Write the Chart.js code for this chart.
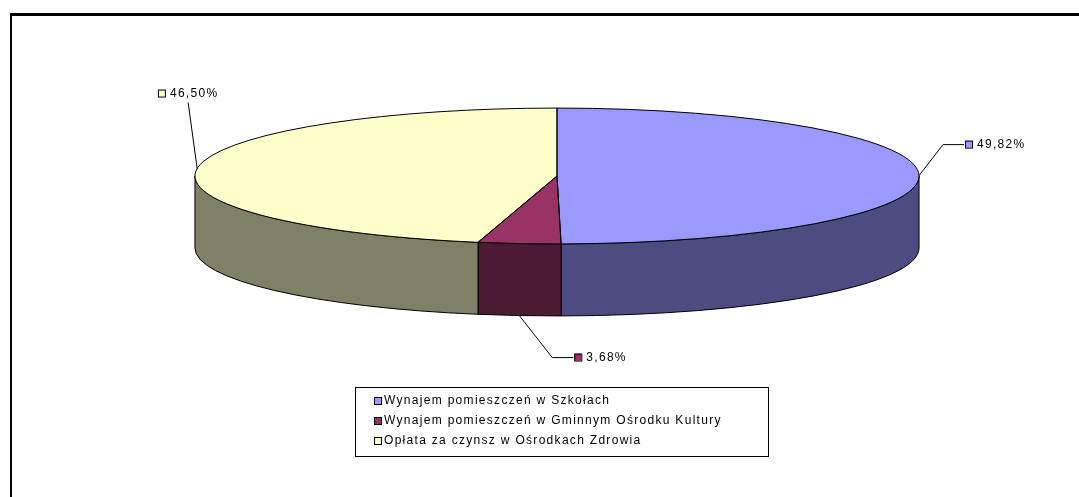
<!DOCTYPE html>
<html>
<head>
<meta charset="utf-8">
<script src="https://cdn.jsdelivr.net/npm/chart.js@4"></script>
<style>
  body { margin: 0; background: #fff; }
  #wrap { width: 1079px; height: 497px; position: relative; }
</style>
</head>
<body>
<div id="wrap"><canvas id="pie-chart"></canvas></div>
<script>
// Categories (legend entries)
const categories = [
    'Wynajem pomieszczeń w Szkołach',
    'Wynajem pomieszczeń w Gminnym Ośrodku Kultury',
    'Opłata za czynsz w Ośrodkach Zdrowia'
];

// Share of each item in percent
const shares = [49.82, 3.68, 46.50];

// Colours of the top faces and of the sides
const topColors = ['#9999FF', '#993366', '#FFFFCC'];
const sideColors = ['#4C4C80', '#4D1A33', '#808066'];

// How the flat pie is turned into a tilted disc
const stretchX = 2.057;
const stretchY = 0.386;
const depth = 72;

// Where each percent label sits relative to its slice
const labelPlacement = [
    { dx: 24, dy: -31, side: 'right' },
    { dx: 33, dy: 42, side: 'right' },
    { dx: -9, dy: -66, side: 'top' }
];

const font = '12px "Liberation Sans", Arial, sans-serif';
const spacing = '1.3px';

function percentText(v) {
    return v.toFixed(2).replace('.', ',') + '%';
}

function ellipseOf(chart) {
    const arc = chart.getDatasetMeta(0).data[0];
    return {
        cx: arc.x,
        cy: arc.y,
        rx: arc.outerRadius * stretchX,
        ry: arc.outerRadius * stretchY
    };
}

function swatch(ctx, x, y, color) {
    ctx.fillStyle = color;
    ctx.fillRect(x, y, 7, 7);
    ctx.lineWidth = 1;
    ctx.strokeStyle = '#000';
    ctx.strokeRect(x + 0.5, y + 0.5, 7, 7);
}

const pie3d = {
    id: 'pie3d',
    beforeDraw(chart) {
        const ctx = chart.ctx;
        ctx.save();
        ctx.fillStyle = '#000';
        ctx.fillRect(10, 13, 1069, 3);   // top frame line
        ctx.fillRect(10, 13, 2, 484);    // left frame line
        ctx.restore();
    },
    beforeDatasetsDraw(chart) {
        const ctx = chart.ctx;
        const e = ellipseOf(chart);
        const arcs = chart.getDatasetMeta(0).data;

        // sides of the disc, only the front half can be seen
        ctx.save();
        ctx.lineWidth = 1;
        ctx.strokeStyle = '#000';
        arcs.forEach((arc, i) => {
            const a1 = Math.max(arc.startAngle, 0);
            const a2 = Math.min(arc.endAngle, Math.PI);
            if (a2 <= a1) return;
            ctx.beginPath();
            ctx.ellipse(e.cx, e.cy, e.rx, e.ry, 0, a1, a2);
            ctx.ellipse(e.cx, e.cy + depth, e.rx, e.ry, 0, a2, a1, true);
            ctx.closePath();
            ctx.fillStyle = sideColors[i];
            ctx.fill();
            ctx.stroke();
        });
        ctx.restore();

        // squash the library's pie into the top face
        ctx.save();
        ctx.translate(e.cx, e.cy);
        ctx.scale(stretchX, stretchY);
        ctx.translate(-e.cx, -e.cy);
    },
    afterDatasetsDraw(chart) {
        const ctx = chart.ctx;
        ctx.restore();
        const e = ellipseOf(chart);
        const arcs = chart.getDatasetMeta(0).data;

        ctx.save();
        ctx.lineWidth = 1;
        ctx.strokeStyle = '#000';
        arcs.forEach(arc => {
            ctx.beginPath();
            ctx.moveTo(e.cx, e.cy);
            ctx.ellipse(e.cx, e.cy, e.rx, e.ry, 0, arc.startAngle, arc.endAngle);
            ctx.closePath();
            ctx.stroke();
        });

        // percent labels with leader lines
        ctx.font = font;
        ctx.letterSpacing = spacing;
        ctx.textBaseline = 'middle';
        arcs.forEach((arc, i) => {
            const mid = (arc.startAngle + arc.endAngle) / 2;
            const s = Math.sin(mid);
            const ax = e.cx + e.rx * Math.cos(mid);
            const ay = e.cy + e.ry * s + (s > 0 ? depth : 0);
            const p = labelPlacement[i];
            const ex = ax + p.dx;
            const ey = ay + p.dy;
            const txt = percentText(shares[i]);

            ctx.strokeStyle = '#000';
            ctx.lineWidth = 1;
            ctx.beginPath();
            ctx.moveTo(ax, ay);
            ctx.lineTo(ex, ey);
            if (p.side === 'right') {
                ctx.lineTo(ex + 21, ey);
                ctx.stroke();
                swatch(ctx, ex + 22, ey - 4, topColors[i]);
                ctx.fillStyle = '#000';
                ctx.fillText(txt, ex + 34, ey);
            } else {
                ctx.stroke();
                const w = 12 + ctx.measureText(txt).width;
                const left = ex - w / 2;
                const cy = ey - 9;
                swatch(ctx, left, cy - 4, topColors[i]);
                ctx.fillStyle = '#000';
                ctx.fillText(txt, left + 12, cy);
            }
        });
        ctx.restore();
    },
    afterDraw(chart) {
        const ctx = chart.ctx;
        const labels = chart.data.labels;
        const colors = chart.data.datasets[0].backgroundColor;
        ctx.save();
        ctx.lineWidth = 1;
        ctx.strokeStyle = '#000';
        ctx.strokeRect(355.5, 387.5, 413, 69);
        ctx.font = font;
        ctx.letterSpacing = spacing;
        ctx.textBaseline = 'middle';
        labels.forEach((label, i) => {
            const y = 401 + i * 20;
            swatch(ctx, 374, y - 4, colors[i]);
            ctx.fillStyle = '#000';
            ctx.fillText(label, 384, y);
        });
        ctx.restore();
    }
};

document.addEventListener('DOMContentLoaded', function () {
    const ctx = document.getElementById('pie-chart').getContext('2d');

    new Chart(ctx, {
        type: 'pie',
        data: {
            labels: categories,
            datasets: [{
                data: shares,
                backgroundColor: topColors,
                borderWidth: 0,
                clip: false
            }]
        },
        options: {
            responsive: true,
            maintainAspectRatio: false,
            animation: false,
            events: [],
            layout: {
                padding: { left: 35, right: 0, top: 0, bottom: 145 }
            },
            plugins: {
                legend: { display: false },
                tooltip: { enabled: false }
            }
        },
        plugins: [pie3d]
    });
});
</script>
</body>
</html>
